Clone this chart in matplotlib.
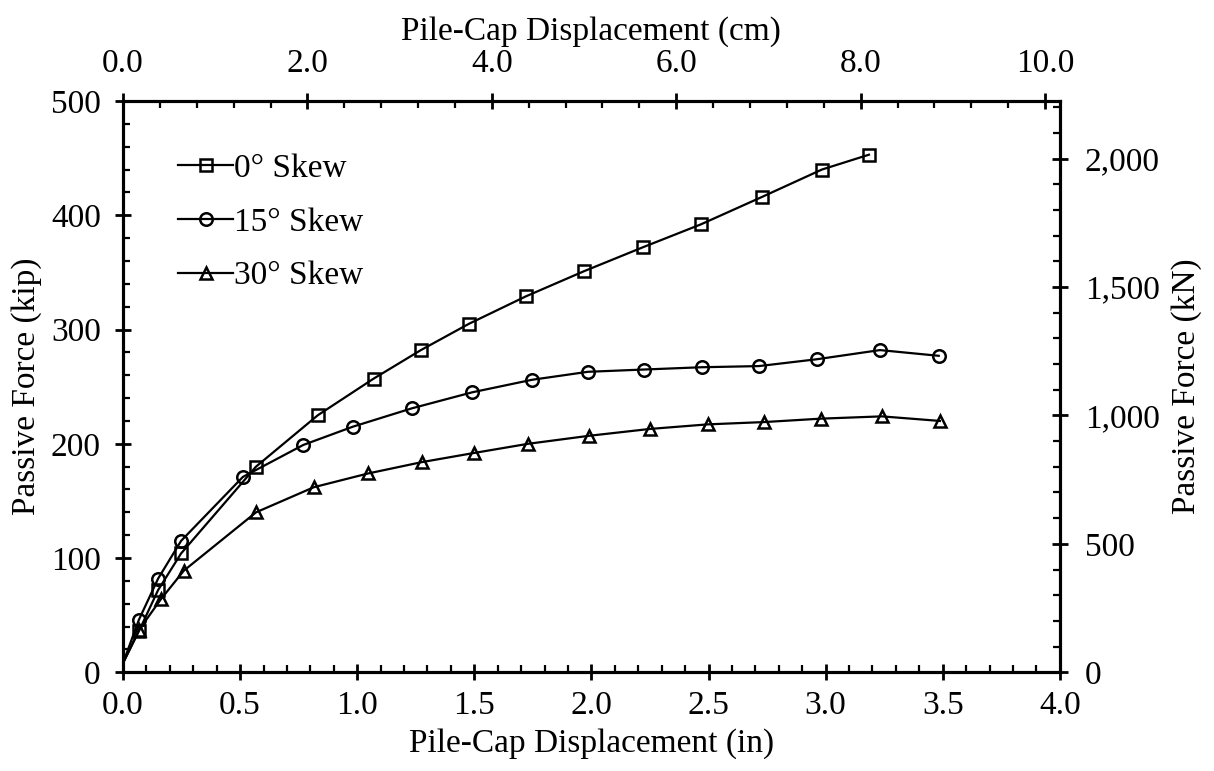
import matplotlib.pyplot as plt
from matplotlib.ticker import MultipleLocator, FuncFormatter

plt.rcParams['font.family'] = ['Liberation Serif', 'DejaVu Serif']
plt.rcParams['font.size'] = 24

# pile-cap displacement (in) and passive force (kip)
x_0 = [0.0, 0.068, 0.15, 0.248, 0.568, 0.832, 1.07, 1.272, 1.477, 1.72, 1.968, 2.22, 2.467, 2.728, 2.984, 3.185]
y_0 = [8, 36, 72, 104, 180, 225, 257, 282, 305, 329, 351, 372, 392, 416, 440, 453]

x_15 = [0.0, 0.068, 0.15, 0.248, 0.512, 0.77, 0.982, 1.233, 1.49, 1.746, 1.985, 2.225, 2.472, 2.715, 2.963, 3.232, 3.483]
y_15 = [8, 46, 82, 115, 171, 199, 215, 231, 245, 256, 263, 265, 267, 268, 274, 282, 277]

x_30 = [0.0, 0.068, 0.162, 0.26, 0.568, 0.815, 1.046, 1.277, 1.50, 1.73, 1.99, 2.25, 2.497, 2.736, 2.98, 3.24, 3.488]
y_30 = [8, 37, 64, 89, 140, 162, 174, 184, 192, 200, 207, 213, 217, 219, 222, 224, 220]

labels = ['0° Skew', '15° Skew', '30° Skew']
markers = ['s', 'o', '^']

KIP_TO_KN = 4.448
IN_TO_CM = 2.54

fig = plt.figure(figsize=(12.14, 7.71), dpi=100)
ax = fig.add_axes([0.1013, 0.128, 0.7717, 0.741])

series = [(x_0, y_0), (x_15, y_15), (x_30, y_30)]
for (xs, ys), lab, m in zip(series, labels, markers):
    ax.plot(xs, ys, color='black', lw=1.6, marker=m, markersize=9,
            markerfacecolor='none', markeredgewidth=1.8, markevery=range(1, len(xs)),
            label=lab)

ax.set_xlim(0, 4.0)
ax.set_ylim(0, 500)
ax.xaxis.set_major_locator(MultipleLocator(0.5))
ax.xaxis.set_minor_locator(MultipleLocator(0.1))
ax.yaxis.set_major_locator(MultipleLocator(100))
ax.yaxis.set_minor_locator(MultipleLocator(20))
ax.xaxis.set_major_formatter(FuncFormatter(lambda v, p: f'{v:.1f}'))
ax.set_xlabel('Pile-Cap Displacement (in)', labelpad=5)
ax.set_ylabel('Passive Force (kip)', labelpad=6)

# right axis in kN
axr = ax.twinx()
axr.set_ylim(0, 500 * KIP_TO_KN)
axr.yaxis.set_major_locator(MultipleLocator(500))
axr.yaxis.set_minor_locator(MultipleLocator(100))
axr.yaxis.set_major_formatter(FuncFormatter(lambda v, p: f'{v:,.0f}'))
axr.set_ylabel('Passive Force (kN)', labelpad=8)

# top axis in cm
axt = ax.twiny()
axt.set_xlim(0, 4.0 * IN_TO_CM)
axt.xaxis.set_major_locator(MultipleLocator(2))
axt.xaxis.set_minor_locator(MultipleLocator(0.4))
axt.xaxis.set_major_formatter(FuncFormatter(lambda v, p: f'{v:.1f}'))
axt.set_xlabel('Pile-Cap Displacement (cm)', labelpad=6)

for a in (ax, axr, axt):
    for s in a.spines.values():
        s.set_linewidth(2.2)
    a.tick_params(which='major', direction='inout', length=12, width=2, labelsize=24)
    a.tick_params(which='minor', direction='in', length=5, width=1.6)
ax.tick_params(which='both', top=False, right=False)
ax.tick_params(axis='x', which='major', pad=7)
ax.tick_params(axis='y', which='major', pad=10)
axr.tick_params(axis='y', which='major', pad=12)
axt.tick_params(axis='x', which='major', pad=10)

ax.legend(loc='upper left', bbox_to_anchor=(0.045, 0.932), borderaxespad=0,
          frameon=False, handlelength=1.63, handletextpad=0.05, labelspacing=0.7,
          fontsize=24)

fig.savefig('out.png', dpi=100)
